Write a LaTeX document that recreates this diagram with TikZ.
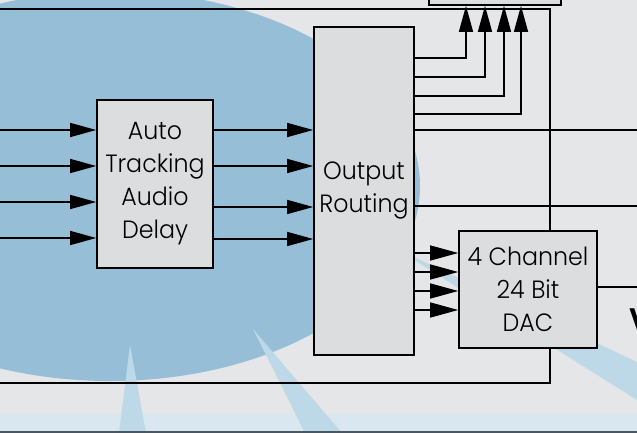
\documentclass[tikz,border=0pt]{standalone}
\usepackage{fontspec}
\setmainfont[FakeStretch=0.95]{Poppins Light}
\usetikzlibrary{arrows.meta,calc}
\definecolor{backgray}{HTML}{E5E6E8}
\definecolor{boxgray}{HTML}{DCDDDF}
\definecolor{cloudblue}{HTML}{96BFD7}
\definecolor{beamblue}{HTML}{BDD9E7}
\definecolor{stripeblue}{HTML}{D8E7F0}
\definecolor{baseslate}{HTML}{4A5661}
\def\canvas{(0,0) rectangle (637,433)}
\def\cloud{(110,186) ellipse (310 and 195)}
\def\beamA{(130,345) -- (119,433) -- (146,433) -- cycle}
\def\beamB{(253,329) -- (305,433) -- (342,433) -- cycle}
\def\beamC{(395,248) -- (637,362) -- (637,400) -- cycle}
\tikzset{
  blk/.style={draw,line width=1.6pt,fill=boxgray,align=center,inner sep=0pt},
  wire/.style={line width=1.4pt},
  feed/.style={wire,-{Triangle[length=26pt,width=14pt]}},
}
\begin{document}
\begin{tikzpicture}[x=1pt,y=-1pt,font=\fontsize{25}{33}\selectfont]
  \useasboundingbox \canvas;
  \begin{scope}
    \clip \canvas;
    \fill[backgray] \canvas;
    \fill[stripeblue] (0,414) rectangle (637,431);
    \fill[cloudblue] \cloud;
    \fill[beamblue] \beamA;
    \fill[beamblue] \beamB;
    \fill[beamblue] \beamC;
    \fill[baseslate] (0,431) rectangle (637,433);
  \end{scope}

  \node[blk,minimum width=116pt,minimum height=168pt] (delay) at (155,184) {Auto\\Tracking\\Audio\\Delay};
  \node[blk,minimum width=100pt,minimum height=328pt] (route) at (364,191) {Output\\Routing};
  \node[blk,minimum width=138pt,minimum height=117pt] (dac) at (528,289.5) {4 Channel\\24 Bit\\DAC};
  \node[blk,minimum width=132pt,minimum height=40pt] (conv) at (495,-15) {};
  \node[anchor=west,inner sep=0pt,font=\fontsize{34}{34}\selectfont\bfseries] (vlabel) at (629,321) {V};

  \coordinate (busin) at (0,9);
  \coordinate (busout) at (0,383);
  \coordinate (tap) at (550,0);
  \coordinate (out1) at (637,130);
  \coordinate (out2) at (637,206);
  \coordinate (out3) at (637,287);
  \foreach \y [count=\i] in {130,166,202,238}
    \coordinate (in\i) at (0,\y);

  \foreach \i in {1,...,4}
    \draw[feed] (in\i) -- (delay.west |- in\i);
  \foreach \y in {130,166,207,239}
    \draw[feed] (delay.east |- 0,\y) -- (route.west |- 0,\y);
  \foreach \y/\x in {58/466,77/485,96/504,114/521}
    \draw[wire,-{Triangle[length=26pt,width=14pt]}] (route.east |- 0,\y) -| (conv.south -| \x,0);
  \foreach \y in {253,272,291,310}
    \draw[wire,-{Triangle[length=28pt,width=15pt]}] (route.east |- 0,\y) -- (dac.west |- 0,\y);
  \draw[wire] (route.east |- out1) -- (out1);
  \draw[wire] (route.east |- out2) -- (out2);
  \draw[wire] (dac.east |- out3) -- (out3);
  \draw[wire] (busin) -| (dac.north -| tap);
  \draw[wire] (dac.south -| tap) |- (busout);
\end{tikzpicture}
\end{document}
